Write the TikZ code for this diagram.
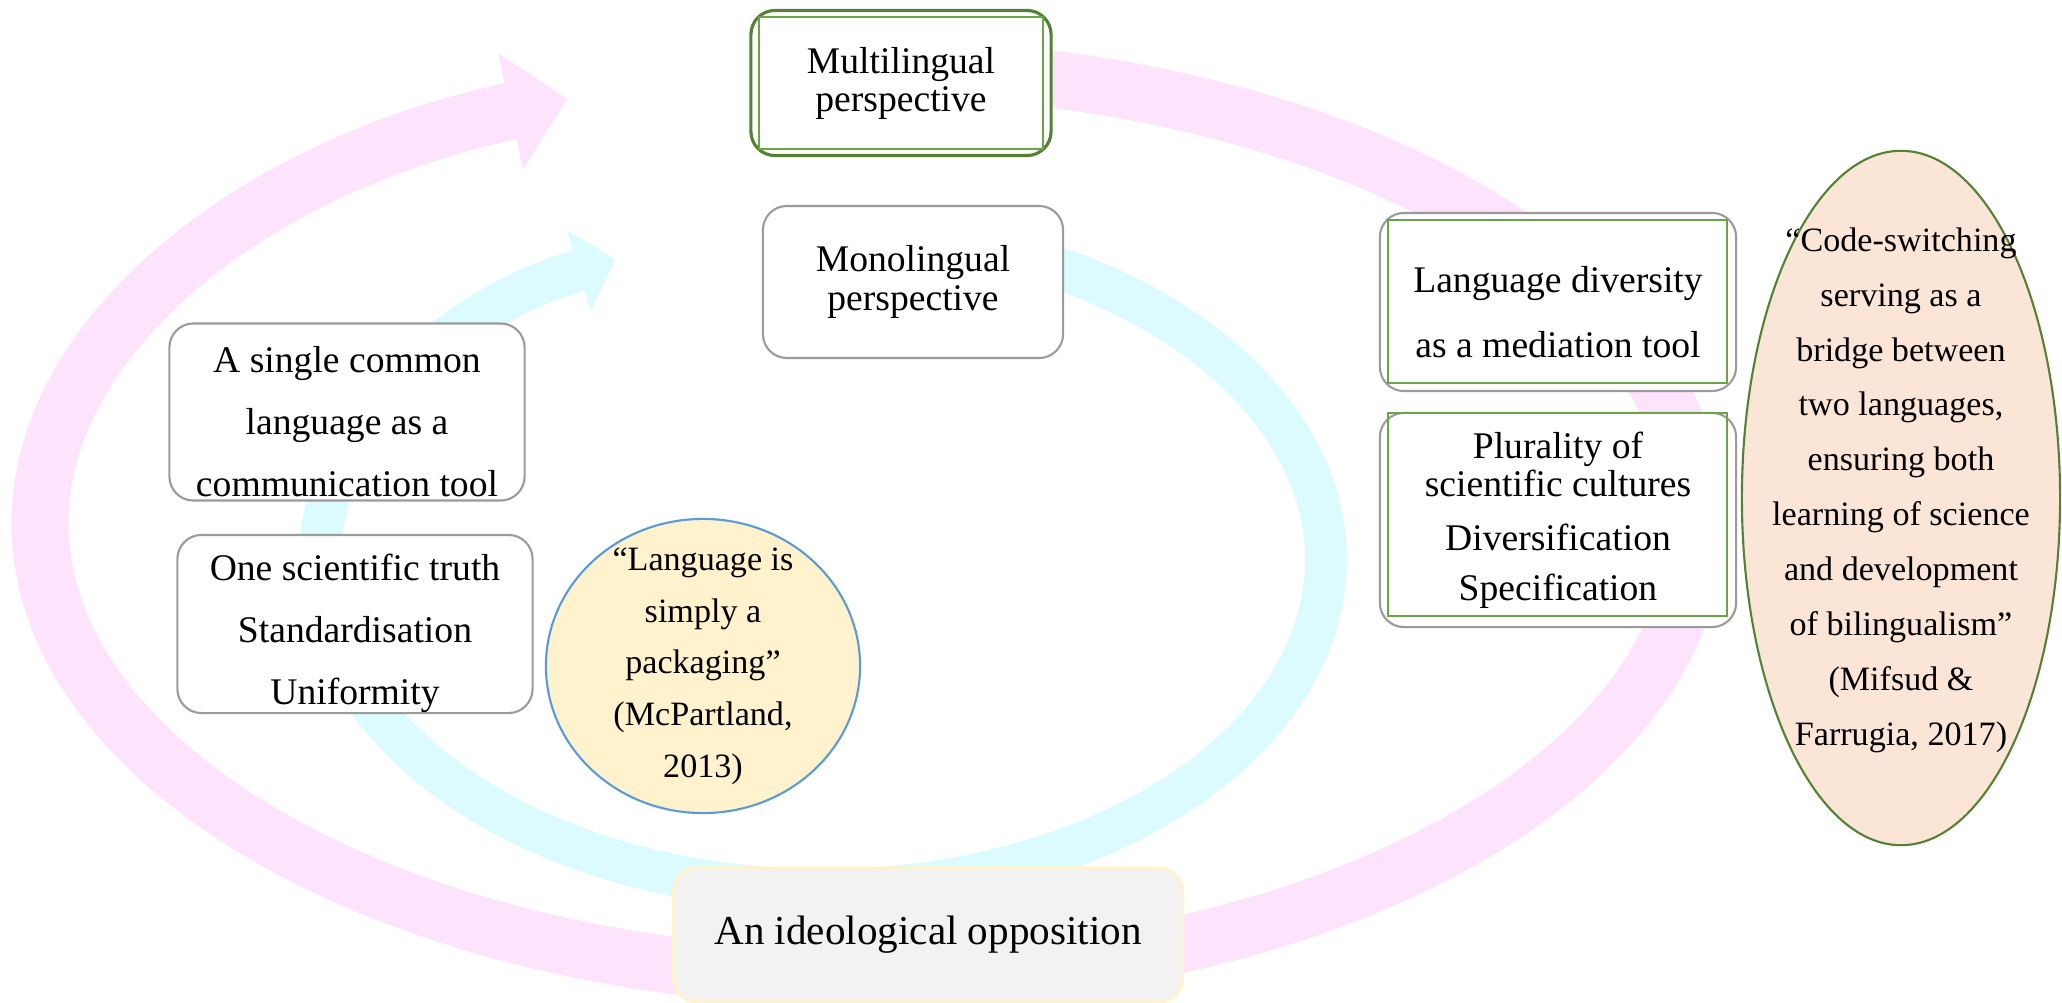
\documentclass[tikz,border=0pt]{standalone}
\usepackage{fontspec}
\setmainfont{Liberation Serif}
\usetikzlibrary{shapes.geometric,arrows.meta}
\definecolor{cyclepink}{HTML}{FDE4FC}
\definecolor{cyclecyan}{HTML}{DBFBFE}
\definecolor{boxgrey}{HTML}{9B9B9B}
\definecolor{darkgreen}{HTML}{548235}
\definecolor{lightgreen}{HTML}{6AA447}
\definecolor{quoteblue}{HTML}{5B9BD5}
\definecolor{quotecream}{HTML}{FFF2CC}
\definecolor{quotepeach}{HTML}{FBE5D6}
\definecolor{oppgrey}{HTML}{F2F2F2}
\tikzset{
  idea/.style={draw=boxgrey,line width=0.6pt,fill=white,rounded corners=2.4mm,align=center,inner sep=0pt,font=\fontsize{10.7}{17.6}\selectfont},
  innerframe/.style={draw=lightgreen,line width=0.5pt},
  quote/.style={ellipse,line width=0.6pt,inner sep=0pt},
  quotetext/.style={align=center,inner sep=0pt,font=\fontsize{9.7}{14.7}\selectfont},
}
\newcommand{\idea}[7][]{\node[idea,minimum width=#5cm,minimum height=#6cm,#1] (#2) at (#3,#4) {#7};}
\newcommand{\frameline}[4]{\draw[innerframe] (#1,#2) rectangle (#3,#4);}
\newcommand{\topgap}{\rule{0pt}{13pt}}

\begin{document}
\begin{tikzpicture}[x=0.01cm,y=-0.01cm]
    \useasboundingbox (0,0) rectangle (2062,1003);
    % the two cycle arrows
    \draw[cyclepink,line width=5.7mm,-{Triangle[length=5.8mm,width=11.9mm,line width=0pt]}] (868,523) ++(-88:828 and 455) arc[start angle=-88,end angle=248.7,x radius=828,y radius=455];
    \draw[cyclecyan,line width=4.2mm,-{Triangle[length=3.8mm,width=8.5mm,line width=0pt]}] (823,560) ++(-80:503 and 330) arc[start angle=-80,end angle=245.6,x radius=503,y radius=330];
    % perspectives
    \idea[draw=darkgreen,line width=0.9pt,font=\fontsize{10.7}{10.8}\selectfont]{multi}{901}{83}{3.0}{1.45}{Multilingual\\perspective}
    \frameline{759}{17}{1043}{149}
    \idea[font=\fontsize{10.7}{11}\selectfont]{mono}{913}{282}{3.0}{1.52}{Monolingual\\perspective}
    \idea{single}{347}{412}{3.55}{1.77}{\topgap A single common\\language as a\\communication tool}
    \idea{truth}{355}{624}{3.55}{1.78}{\topgap One scientific truth\\Standardisation\\Uniformity}
    \idea[font=\fontsize{10.7}{18.4}\selectfont]{diversity}{1558}{302}{3.56}{1.78}{\topgap Language diversity\\as a mediation tool}
    \frameline{1388}{220}{1727}{383}
    \idea[font=\fontsize{10.7}{10.8}\selectfont]{plurality}{1558}{520}{3.56}{2.14}{Plurality of\\scientific cultures\\[4.5pt]Diversification\\[3.4pt]Specification}
    \frameline{1388}{413}{1727}{616}
    % quotes
    \node[quote,draw=quoteblue,fill=quotecream,minimum width=3.14cm,minimum height=2.94cm] (mcpartland) at (703,666) {};
    \node[quotetext] (mcpartlandtext) at (mcpartland) {“Language is\\simply a\\packaging”\\(McPartland,\\2013)};
    \node[quote,draw=darkgreen,fill=quotepeach,minimum width=3.18cm,minimum height=6.94cm] (mifsud) at (1901,498) {};
    \node[quotetext,font=\fontsize{9.7}{15.6}\selectfont] (mifsudtext) at (1901,490) {“Code-switching\\serving as a\\bridge between\\two languages,\\ensuring both\\learning of science\\and development\\of bilingualism”\\(Mifsud \&\\Farrugia, 2017)};
    % opposition
    \node[draw=quotecream,line width=0.9pt,fill=oppgrey,rounded corners=2.4mm,minimum width=5.09cm,minimum height=1.34cm,font=\fontsize{11.7}{14}\selectfont] (opposition) at (928,935) {An ideological opposition};
\end{tikzpicture}
\end{document}
